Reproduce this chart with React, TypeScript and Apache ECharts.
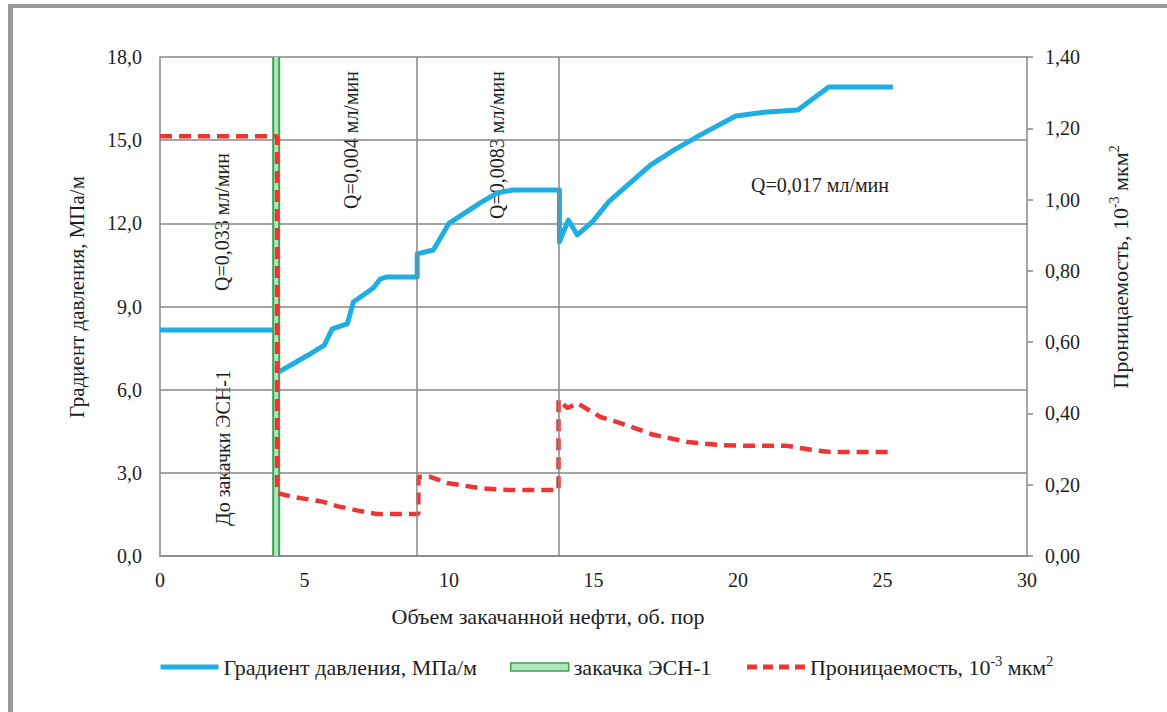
import React, { useEffect, useRef } from "react";
import * as echarts from "echarts";

// Gradient of pressure, MPa/m (left axis)
const gradientX = [0, 4.0, 4.0, 4.16, 5.13, 5.68, 5.96, 6.48, 6.69, 7.38, 7.62, 7.83, 8.9, 8.9, 9.46, 10.0, 11.08, 11.67, 12.19, 13.82, 13.82, 14.13, 14.44, 14.96, 15.52, 16.97, 17.75, 18.7, 19.92, 21.02, 22.07, 23.14, 25.36];
const gradientY = [8.15, 8.15, 6.65, 6.67, 7.25, 7.6, 8.19, 8.37, 9.16, 9.67, 9.99, 10.06, 10.06, 10.9, 11.04, 12.0, 12.74, 13.1, 13.2, 13.2, 11.33, 12.12, 11.58, 12.05, 12.77, 14.1, 14.62, 15.19, 15.87, 16.02, 16.09, 16.92, 16.92];

// Permeability, 10^-3 um^2 (right axis)
const permX = [0, 4.05, 4.05, 4.6, 5.65, 6.13, 6.93, 7.5, 8.66, 8.94, 8.94, 9.35, 9.94, 11.08, 12.12, 13.79, 13.79, 14.1, 14.44, 15.24, 15.93, 17.08, 18.25, 19.4, 20.54, 21.7, 22.62, 23.2, 25.36];
const permY = [1.178, 1.178, 0.177, 0.166, 0.152, 0.14, 0.126, 0.118, 0.118, 0.118, 0.222, 0.222, 0.205, 0.19, 0.185, 0.185, 0.438, 0.415, 0.429, 0.39, 0.373, 0.34, 0.32, 0.311, 0.309, 0.309, 0.297, 0.292, 0.292];

const injectionX = 4.02;
const stageBoundaries = [8.9, 13.8];

const NAME_GRAD = "Градиент давления, МПа/м";
const NAME_INJ = "закачка ЭСН-1";
const NAME_PERM = "Проницаемость, 10-3 мкм2";
const X_TITLE = "Объем закачанной нефти, об. пор";

const FONT = "Liberation Serif, DejaVu Serif, serif";
const GRAY = "#878787";
const TEXT = "#1e1e1e";
const BLUE = "#1eaee4";
const RED = "#ee3535";
const GREEN = "#37a552";
const GREEN_LIGHT = "#b2e5bf";

const richSup = {
  a: { fontSize: 22, fontFamily: FONT, color: TEXT, lineHeight: 26 },
  s: { fontSize: 14, fontFamily: FONT, color: TEXT, verticalAlign: "top", lineHeight: 14 },
};
const permRich = "{a|Проницаемость, 10}{s|-3}{a| мкм}{s|2}";

export default function App() {
  const ref = useRef<HTMLDivElement>(null);
  useEffect(() => {
    const chart = echarts.init(ref.current!, null, { renderer: "svg" });
    const comma = (d: number) => (v: number) => v.toFixed(d).replace(".", ",");
    const annotations = [
      { text: "Q=0,033 мл/мин", x: 222, y: 222, rot: Math.PI / 2, size: 20 },
      { text: "До закачки ЭСН-1", x: 223, y: 448, rot: Math.PI / 2, size: 20 },
      { text: "Q=0,004 мл/мин", x: 351, y: 140, rot: Math.PI / 2, size: 20 },
      { text: "Q=0,0083 мл/мин", x: 497, y: 145, rot: Math.PI / 2, size: 20 },
      { text: "Q=0,017 мл/мин", x: 820, y: 185, rot: 0, size: 20 },
      { text: NAME_GRAD, x: 77, y: 297, rot: Math.PI / 2, size: 21 },
      { text: X_TITLE, x: 548, y: 616, rot: 0, size: 22 },
    ];
    const hiddenSymbol = { color: "rgba(0,0,0,0)", borderWidth: 0, opacity: 0 };
    chart.setOption({
      animation: false,
      textStyle: { fontFamily: FONT },
      grid: { left: 160, right: 140, top: 57, bottom: 156 },
      xAxis: {
        type: "value",
        min: 0,
        max: 30,
        interval: 5,
        axisLine: { show: true, onZero: false, lineStyle: { color: GRAY, width: 1.5 } },
        axisTick: { show: false },
        splitLine: { show: false },
        axisLabel: { fontSize: 20, color: TEXT, margin: 14, fontFamily: FONT },
      },
      yAxis: [
        {
          type: "value",
          min: 0,
          max: 18,
          interval: 3,
          position: "left",
          axisLine: { show: true, lineStyle: { color: GRAY, width: 1.5 } },
          axisTick: { show: false },
          splitLine: { show: true, lineStyle: { color: GRAY, width: 1.5 } },
          axisLabel: { fontSize: 20, color: TEXT, margin: 18, fontFamily: FONT, formatter: comma(1) },
        },
        {
          type: "value",
          min: 0,
          max: 1.4,
          interval: 0.2,
          position: "right",
          axisLine: { show: true, lineStyle: { color: GRAY, width: 1.5 } },
          axisTick: { show: true, inside: false, length: 6, lineStyle: { color: GRAY, width: 1.5 } },
          splitLine: { show: false },
          axisLabel: { fontSize: 20, color: TEXT, margin: 18, fontFamily: FONT, formatter: comma(2) },
        },
      ],
      legend: {
        left: 153,
        top: 649,
        itemWidth: 58,
        itemHeight: 14,
        itemGap: 33,
        data: [
          { name: NAME_GRAD, itemStyle: hiddenSymbol, lineStyle: { color: BLUE, width: 5 } },
          {
            name: NAME_INJ,
            icon: "path://M0,0 L58,0 L58,8 L0,8 Z",
            itemStyle: { color: GREEN_LIGHT, borderColor: GREEN, borderWidth: 1.5 },
            textStyle: { padding: [0, 15, 0, 0] },
          },
          { name: NAME_PERM, itemStyle: hiddenSymbol, lineStyle: { color: RED, width: 5, type: [10, 6] } },
        ],
        textStyle: { fontSize: 22, color: TEXT, fontFamily: FONT, rich: richSup },
        formatter: (n: string) => (n === NAME_PERM ? permRich : n),
      },
      graphic: [
        { type: "rect", shape: { x: 8, y: 4, width: 1159, height: 4 }, style: { fill: "#9a9a9a" }, silent: true },
        { type: "rect", shape: { x: 8, y: 4, width: 5, height: 708 }, style: { fill: "#9a9a9a" }, silent: true },
        ...annotations.map((a) => ({
          type: "text",
          x: a.x,
          y: a.y,
          rotation: a.rot,
          silent: true,
          style: {
            text: a.text,
            fontSize: a.size,
            fontFamily: FONT,
            fill: TEXT,
            align: "center",
            verticalAlign: "middle",
          },
        })),
        {
          type: "text",
          x: 1120,
          y: 267,
          rotation: Math.PI / 2,
          silent: true,
          style: {
            text: permRich,
            rich: richSup,
            fontSize: 22,
            fontFamily: FONT,
            fill: TEXT,
            align: "center",
            verticalAlign: "middle",
          },
        },
      ],
      series: [
        {
          name: "sep",
          type: "line",
          data: [],
          silent: true,
          markLine: {
            silent: true,
            symbol: ["none", "none"],
            label: { show: false },
            lineStyle: { color: GRAY, width: 1.5, type: "solid" },
            data: stageBoundaries.map((v) => ({ xAxis: v })),
          },
        },
        {
          name: NAME_GRAD,
          type: "line",
          yAxisIndex: 0,
          symbol: "none",
          data: gradientX.map((x, i) => [x, gradientY[i]]),
          lineStyle: { color: BLUE, width: 5, join: "round" },
          itemStyle: { color: BLUE },
        },
        {
          name: NAME_INJ,
          type: "line",
          yAxisIndex: 0,
          symbol: "none",
          silent: true,
          data: [[injectionX, 0], [injectionX, 18]],
          lineStyle: { color: GREEN, width: 8 },
          itemStyle: { color: GREEN },
        },
        {
          name: "inj-inner",
          type: "line",
          yAxisIndex: 0,
          symbol: "none",
          silent: true,
          data: [[injectionX, 0], [injectionX, 18]],
          lineStyle: { color: GREEN_LIGHT, width: 4 },
        },
        {
          name: NAME_PERM,
          type: "line",
          yAxisIndex: 1,
          symbol: "none",
          data: permX.map((x, i) => [x, permY[i]]),
          lineStyle: { color: RED, width: 4.5, type: [12, 7] },
          itemStyle: { color: RED },
        },
      ],
    });
    return () => chart.dispose();
  }, []);
  return (
    <div
      ref={ref}
      style={{ position: "fixed", left: 0, top: 0, width: 1167, height: 712, background: "#fff" }}
    />
  );
}
